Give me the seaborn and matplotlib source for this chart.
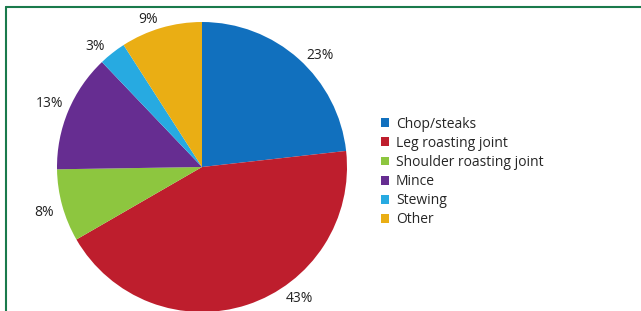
import matplotlib
matplotlib.use("Agg")
import matplotlib.pyplot as plt
import seaborn as sns
import numpy as np
from matplotlib.patches import Patch
from matplotlib.lines import Line2D

sns.set_theme(style="white")
plt.rcParams['font.family'] = ['Open Sans', 'DejaVu Sans']

categories = ["Chop/steaks", "Leg roasting joint", "Shoulder roasting joint", "Mince", "Stewing", "Other"]
values = [23, 43, 8, 13, 3, 9]
colors = ["#1170be", "#be1e2d", "#8dc63f", "#662d91", "#27aae1", "#eaae14"]

W, H = 641, 311
fig = plt.figure(figsize=(W / 100, H / 100), dpi=100)

# frame lines (top and left)
fig.add_artist(Line2D([6 / W, 6 / W], [0, 1 - 6.5 / H], color="#1a7a4c", lw=1.5, transform=fig.transFigure))
fig.add_artist(Line2D([6 / W, 1], [1 - 6.5 / H, 1 - 6.5 / H], color="#1a7a4c", lw=1.5, transform=fig.transFigure))

cx, cy, r = 202, 167, 145
ax = fig.add_axes([(cx - r) / W, (H - cy - r) / H, 2 * r / W, 2 * r / H])
wedges, _ = ax.pie(values, colors=colors, startangle=90, counterclock=False,
                   wedgeprops=dict(linewidth=0), radius=1)
ax.set_xlim(-1, 1)
ax.set_ylim(-1, 1)
ax.set_aspect("equal")
ax.axis("off")

label_shift = [-4.7, 18.4, 0.5, 0, 3.5, 3.6]  # degrees, label placement tweak
label_dist = [1.12, 1.13, 1.13, 1.14, 1.11, 1.08]
for w, v, s, d in zip(wedges, values, label_shift, label_dist):
    ang = np.deg2rad((w.theta1 + w.theta2) / 2 + s)
    ax.text(d * np.cos(ang), d * np.sin(ang), f"{v}%", ha="center", va="center",
            fontsize=10, color="#222222", clip_on=False)

handles = [Patch(facecolor=c, edgecolor="none") for c in colors]
fig.legend(handles, categories, loc="upper left", bbox_to_anchor=(375 / W, 1 - 111 / H),
           frameon=False, fontsize=10, handlelength=0.6, handleheight=0.6,
           handletextpad=0.5, labelspacing=0.3, borderaxespad=0)

fig.savefig("out.png", dpi=100)
